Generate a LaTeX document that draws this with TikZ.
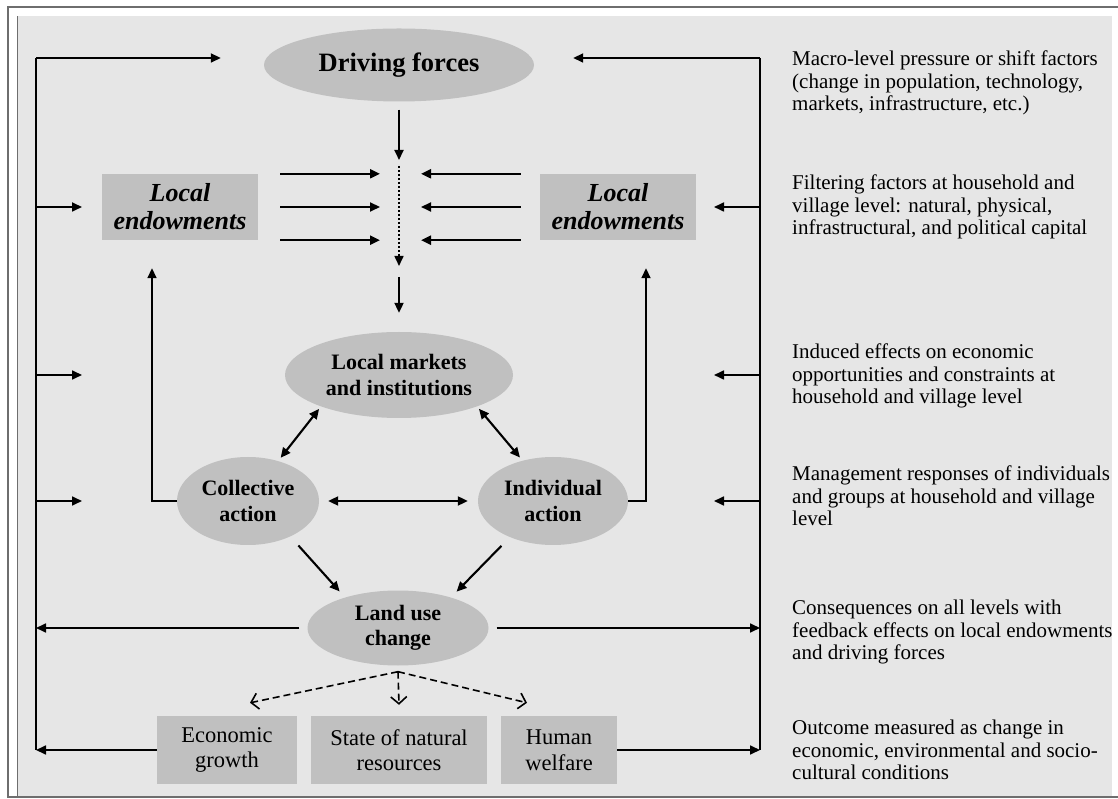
\documentclass[tikz,border=0pt]{standalone}
\usepackage{fontspec}
\setmainfont{Liberation Serif}
\usetikzlibrary{shapes.geometric,arrows.meta}

\begin{document}
\begin{tikzpicture}[x=1pt,y=1pt,
  blob/.style={ellipse,fill=shapeColor,inner sep=0pt,align=center,
    font=\fontsize{22}{25.5}\selectfont\bfseries},
  endow/.style={rectangle,fill=shapeColor,inner sep=0pt,minimum width=156pt,
    minimum height=66pt,align=center,font=\fontsize{26}{28}\selectfont\bfseries\itshape},
  outcome/.style={rectangle,fill=shapeColor,inner sep=0pt,minimum height=68pt,
    align=center,font=\fontsize{22.5}{25.5}\selectfont},
  note/.style={anchor=north west,inner sep=0pt,align=left,
    font=\fontsize{21}{22.5}\selectfont,execute at begin node=\strut},
  arr/.style={draw=drawColor,line width=2.1pt,-{Triangle[length=10pt,width=9pt]}},
  twoway/.style={arr,{Triangle[length=10pt,width=9pt]}-{Triangle[length=10pt,width=9pt]}},
  thinarr/.style={arr,line width=1.7pt},
  backline/.style={draw=drawColor,line width=2pt},
  dashy/.style={draw=drawColor,line width=1.6pt,dash pattern=on 7pt off 4pt,
    -{Straight Barb[length=7pt,width=16pt,line width=1.6pt]}}]
\definecolor{fillColor}{RGB}{255,255,255}
\definecolor{panelColor}{RGB}{230,230,230}
\definecolor{shapeColor}{RGB}{192,192,192}
\definecolor{frameColor}{RGB}{110,110,110}
\definecolor{drawColor}{RGB}{0,0,0}
\path[use as bounding box,fill=fillColor] (0,0) rectangle (1118,798);
\path[fill=panelColor] (17,2) rectangle (1112,782);
\path[draw=frameColor,line width=0.8pt] (17,2) -- (17,782);
\path[draw=frameColor,line width=1.5pt] (1118,791) -- (8,791) -- (8,1) -- (1118,1);

% boxes and ellipses
\node[blob,minimum width=270pt,minimum height=73pt,
  font=\fontsize{26.5}{28}\selectfont\bfseries] (drive) at (399,733) {Driving forces};
\node[endow] (endowL) at (180,591) {Local\\endowments};
\node[endow] (endowR) at (618,591) {Local\\endowments};
\node[blob,minimum width=228pt,minimum height=86pt] (markets) at (399,423) {Local markets\\and institutions};
\node[blob,minimum width=142pt,minimum height=88pt] (coll) at (248,297) {Collective\\action};
\node[blob,minimum width=150pt,minimum height=88pt] (indiv) at (553,297) {Individual\\action};
\node[blob,minimum width=181pt,minimum height=75pt] (land) at (398,170) {Land use\\change};
\node[outcome,minimum width=140pt] (econ) at (227,48) {Economic\\growth};
\node[outcome,minimum width=176pt] (state) at (399,48) {State of natural\\resources};
\node[outcome,minimum width=116pt] (human) at (559,48) {Human\\welfare};

% notes on the right
\node[note] (n1) at (792,747) {Macro-level pressure or shift factors\\(change in population, technology,\\markets, infrastructure, etc.)};
\node[note] (n2) at (792,623) {Filtering factors at household and\\village level: natural, physical,\\infrastructural, and political capital};
\node[note] (n3) at (792,454) {Induced effects on economic\\opportunities and constraints at\\household and village level};
\node[note] (n4) at (792,332) {Management responses of individuals\\and groups at household and village\\level};
\node[note] (n5) at (792,198) {Consequences on all levels with\\feedback effects on local endowments\\and driving forces};
\node[note] (n6) at (792,78) {Outcome measured as change in\\economic, environmental and socio-\\cultural conditions};

\coordinate (Ltop) at (36,740);
\coordinate (Rtop) at (760,740);
\coordinate (ftop) at (399,632);
\coordinate (fbot) at (399,532);
\coordinate (fork) at ([yshift=-6pt]land.south);
\coordinate (toEcon) at ([xshift=23pt,yshift=13pt]econ.north);
\coordinate (toState) at ([yshift=11pt]state.north);
\coordinate (toHuman) at ([xshift=-32pt,yshift=13pt]human.north);

% filter
\draw[arr,shorten <=8pt,shorten >=6pt] (drive.south) -- (ftop);
\draw[arr,line width=1.6pt,dash pattern=on 2pt off 2pt] (ftop) -- (fbot);
\foreach \a/\b in {north east/north west,east/west,south east/south west}{
  \draw[arr,shorten <=22pt,shorten >=19pt] (endowL.\a) -- (endowL.\a -| ftop);
  \draw[arr,shorten <=19pt,shorten >=22pt] (endowR.\b) -- (endowR.\b -| ftop);
}
\draw[arr,shorten <=11pt,shorten >=19pt] (fbot) -- (markets.north);

% local level
\draw[twoway,shorten <=3pt,shorten >=4pt] (markets.-158) -- (coll.53);
\draw[twoway,shorten <=3pt,shorten >=4pt] (markets.-22) -- (indiv.127);
\draw[twoway,shorten <=9pt,shorten >=10pt] (coll.east) -- (indiv.west);
\draw[arr,shorten <=12pt,shorten >=8pt] (coll.-40) -- (land.150);
\draw[arr,shorten <=12pt,shorten >=8pt] (indiv.-140) -- (land.30);
\draw[thinarr,shorten >=28pt] (coll.west) -| ([xshift=-28pt]endowL.south);
\draw[thinarr,shorten >=28pt] (indiv.east) -| ([xshift=28pt]endowR.south);

% outcomes
\draw[dashy] (fork) -- (toEcon);
\draw[dashy] (fork) -- (toState);
\draw[dashy] (fork) -- (toHuman);

% feedback
\draw[backline] (Ltop) -- (econ.west -| Ltop);
\draw[backline,line width=1.5pt] (Rtop) -- (human.east -| Rtop);
\draw[thinarr,shorten >=43pt] (Ltop) -- (Ltop -| drive.west);
\draw[thinarr,shorten >=39pt] (Rtop) -- (Rtop -| drive.east);
\foreach \n in {endowL,markets,coll}
  \draw[thinarr] (Ltop |- \n) -- ++(46,0);
\foreach \n in {endowR,markets,indiv}
  \draw[thinarr] (Rtop |- \n) -- ++(-46,0);
\draw[thinarr,shorten <=8pt] (land.west) -- (land.west -| Ltop);
\draw[thinarr,shorten <=8pt] (land.east) -- (land.east -| Rtop);
\draw[thinarr] (econ.west) -- (econ.west -| Ltop);
\draw[thinarr] (human.east) -- (human.east -| Rtop);
\end{tikzpicture}
\end{document}
